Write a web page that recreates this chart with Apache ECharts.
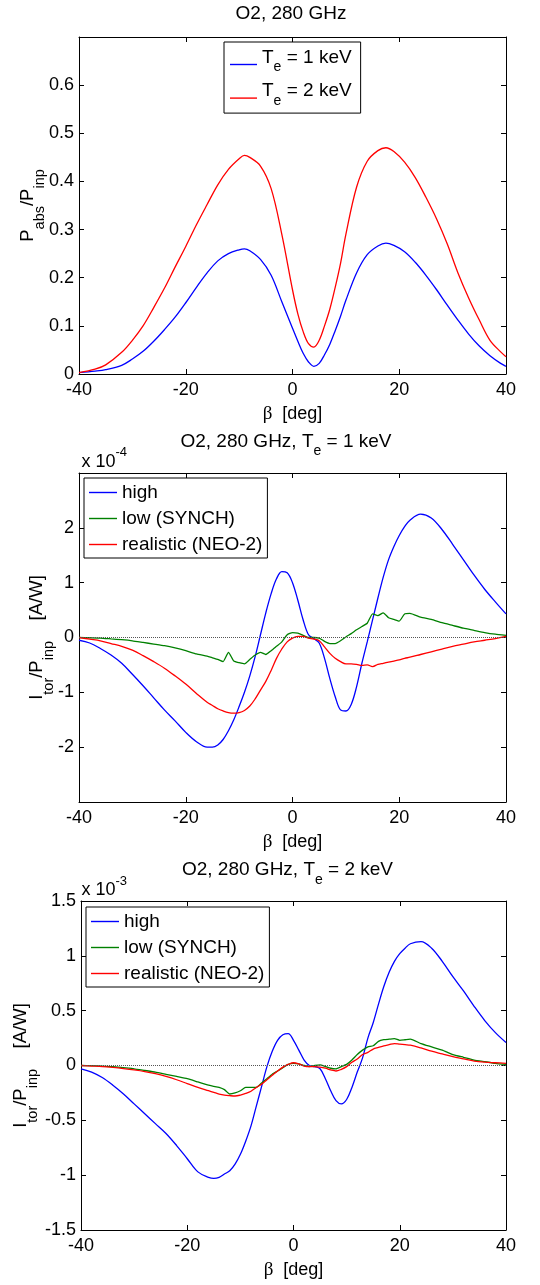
<!DOCTYPE html>
<html>
<head>
<meta charset="utf-8">
<script src="https://cdn.jsdelivr.net/npm/echarts@6/dist/echarts.min.js"></script>
<style>
html,body{margin:0;padding:0;background:#fff;}
#c{width:540px;height:1285px;}
</style>
</head>
<body>
<div id="c"></div>
<script>
// ---------------- DATA ----------------
// Panel 1: absorbed power fraction vs beta
const betaP = [-40,-37,-35,-32,-30,-28,-26,-24,-22,-20,-18,-16,-14,-12,-10,-9,-8,-6,-4,-2,
               0,1,2,3,4,5,6,7,8,9,10,12,14,16,17.5,19,21,23,25,27,29,31,33,35,37,39,40];
const pabs1keV = [0.003,0.006,0.009,0.018,0.031,0.047,0.068,0.092,0.118,0.148,0.18,0.21,0.235,0.25,0.258,0.26,0.256,0.238,0.205,0.15,
                  0.095,0.068,0.043,0.025,0.016,0.022,0.04,0.062,0.09,0.12,0.153,0.21,0.248,0.266,0.272,0.267,0.254,0.232,0.205,0.175,0.143,0.112,0.083,0.058,0.038,0.022,0.016];
const pabs2keV = [0.003,0.01,0.019,0.045,0.07,0.1,0.138,0.178,0.222,0.265,0.31,0.352,0.393,0.425,0.447,0.454,0.45,0.432,0.385,0.29,
                  0.175,0.125,0.088,0.063,0.056,0.07,0.1,0.135,0.18,0.23,0.29,0.388,0.442,0.464,0.47,0.462,0.44,0.408,0.367,0.322,0.27,0.21,0.158,0.112,0.07,0.046,0.036];

// Panels 2 and 3: toroidal current per input power vs beta
const betaI = [-40,-38,-36,-34,-32,-30,-28,-26,-24,-22,
               -20,-18,-16,-15,-14,-13,-12,-11,-10,-9,
               -8,-7,-6,-5,-4,-3,-2,-1,0,1,
               2,3,4,5,6,7,8,9,10,11,
               12,13,14,15,16,17,18,19,20,21,
               22,24,26,28,30,32,34,36,38,40];
// Te = 1 keV, units of 1e-4 A/W
const ihigh1 = [-0.05,-0.1,-0.2,-0.32,-0.47,-0.67,-0.88,-1.1,-1.32,-1.52,
                -1.73,-1.9,-2.0,-2.0,-1.96,-1.86,-1.7,-1.5,-1.26,-1.0,
                -0.7,-0.35,0.05,0.45,0.8,1.07,1.2,1.18,1.0,0.68,
                0.32,0.05,-0.02,-0.1,-0.38,-0.75,-1.08,-1.32,-1.34,-1.22,
                -0.9,-0.47,-0.08,0.32,0.72,1.1,1.42,1.66,1.86,2.02,
                2.14,2.25,2.18,1.97,1.7,1.42,1.14,0.88,0.65,0.43];
const ilow1 = [0,-0.005,-0.01,-0.025,-0.04,-0.06,-0.09,-0.12,-0.15,-0.19,
               -0.24,-0.3,-0.34,-0.37,-0.4,-0.44,-0.27,-0.43,-0.46,-0.48,
               -0.4,-0.32,-0.27,-0.31,-0.24,-0.16,-0.08,0.05,0.09,0.08,
               0.04,0.0,0.0,-0.01,-0.07,-0.11,-0.11,-0.06,0.01,0.07,
               0.14,0.2,0.26,0.43,0.4,0.45,0.36,0.33,0.3,0.43,
               0.44,0.37,0.33,0.27,0.22,0.17,0.13,0.09,0.06,0.04];
const ineo1 = [0,-0.03,-0.06,-0.11,-0.16,-0.23,-0.33,-0.44,-0.56,-0.7,
               -0.85,-1.02,-1.18,-1.24,-1.3,-1.34,-1.37,-1.38,-1.37,-1.33,
               -1.25,-1.12,-0.96,-0.8,-0.6,-0.38,-0.21,-0.08,-0.01,0.02,
               0.02,-0.01,-0.03,-0.06,-0.17,-0.29,-0.38,-0.44,-0.48,-0.48,
               -0.49,-0.51,-0.5,-0.53,-0.49,-0.47,-0.45,-0.43,-0.41,-0.38,
               -0.36,-0.31,-0.26,-0.21,-0.16,-0.12,-0.08,-0.05,-0.02,0.02];
// Te = 2 keV, units of 1e-3 A/W
const ihigh2 = [-0.03,-0.06,-0.11,-0.18,-0.26,-0.35,-0.44,-0.53,-0.62,-0.73,
                -0.85,-0.97,-1.02,-1.03,-1.02,-0.99,-0.96,-0.9,-0.81,-0.69,
                -0.55,-0.37,-0.19,-0.01,0.13,0.23,0.28,0.29,0.23,0.14,
                0.05,0.0,-0.01,-0.03,-0.12,-0.23,-0.32,-0.35,-0.31,-0.2,
                -0.06,0.07,0.25,0.39,0.56,0.72,0.85,0.95,1.02,1.07,
                1.11,1.13,1.07,0.95,0.81,0.68,0.54,0.41,0.3,0.21];
const ilow2 = [0,-0.002,-0.005,-0.01,-0.02,-0.03,-0.045,-0.06,-0.08,-0.1,
               -0.12,-0.15,-0.18,-0.19,-0.2,-0.22,-0.26,-0.25,-0.23,-0.2,
               -0.2,-0.2,-0.16,-0.12,-0.08,-0.05,-0.02,0.01,0.02,0.015,
               0.0,-0.01,0.0,0.005,-0.01,-0.025,-0.03,-0.01,0.01,0.05,
               0.1,0.14,0.17,0.18,0.22,0.235,0.24,0.245,0.23,0.235,
               0.24,0.2,0.17,0.14,0.1,0.075,0.05,0.035,0.02,0.01];
const ineo2 = [0,-0.005,-0.01,-0.018,-0.028,-0.04,-0.055,-0.075,-0.1,-0.13,
               -0.165,-0.2,-0.23,-0.245,-0.26,-0.27,-0.275,-0.278,-0.27,-0.255,
               -0.235,-0.2,-0.17,-0.13,-0.09,-0.05,-0.015,0.01,0.025,0.015,
               -0.005,-0.01,-0.01,-0.015,-0.025,-0.04,-0.05,-0.035,-0.01,0.03,
               0.06,0.1,0.12,0.15,0.165,0.18,0.19,0.2,0.195,0.19,
               0.185,0.16,0.13,0.105,0.08,0.06,0.04,0.03,0.025,0.02];

// Tick labels shown on the y axes
const yTicksP = [0,0.1,0.2,0.3,0.4,0.5,0.6];
const yTicksI1 = [-2,-1,0,1,2];
const yTicksI2 = [-1.5,-1,-0.5,0,0.5,1,1.5];
const xTicks = [-40,-20,0,20,40];

const legendTop = ['T_e = 1 keV','T_e = 2 keV'];
const legendI = ['high','low (SYNCH)','realistic (NEO-2)'];

// ---------------- STYLE ----------------
const FONT = '"Liberation Sans", Arial, Helvetica, sans-serif';
const SERIF = '"Liberation Serif", "DejaVu Serif", serif';
const BLUE = '#0000ff', GREEN = '#008000', RED = '#ff0000';

const subRich = {
  m: {fontFamily: FONT, fontSize: 18.5, color: '#000', padding: [0,0,12,0], verticalAlign: 'middle'},
  s: {fontFamily: FONT, fontSize: 14.5, color: '#000', padding: [12,0,0,0], verticalAlign: 'middle'}
};
const titleRich = {
  m: {fontFamily: FONT, fontSize: 19, color: '#000', padding: [0,0,14,0], verticalAlign: 'middle'},
  s: {fontFamily: FONT, fontSize: 14, color: '#000', padding: [6,0,0,0], verticalAlign: 'middle'}
};
const supRich = {
  m: {fontFamily: FONT, fontSize: 18, color: '#000', verticalAlign: 'middle'},
  p: {fontFamily: FONT, fontSize: 13, color: '#000', padding: [0,0,19,0], verticalAlign: 'middle'}
};

const axLine = {show: true, onZero: false, lineStyle: {color: '#000', width: 1}};
const axTick = {show: true, inside: true, length: 5, lineStyle: {color: '#000', width: 1}};

function fmtTicks(list) {
  return function (v) {
    for (const t of list) { if (Math.abs(t - v) < 1e-9) return String(t); }
    return '';
  };
}

function xAxesFor(gi) {
  return [
    {type: 'value', gridIndex: gi, position: 'bottom', min: xTicks[0], max: xTicks[xTicks.length-1], interval: 20,
     name: '{b|β}{t|  [deg]}', nameLocation: 'middle', nameGap: 31, nameMoveOverlap: false,
     nameTextStyle: {color: '#000', rich: {
       b: {fontFamily: SERIF, fontSize: 19, color: '#000'},
       t: {fontFamily: FONT, fontSize: 18, color: '#000'}}},
     axisLine: axLine, axisTick: axTick, splitLine: {show: false},
     axisLabel: {color: '#000', fontFamily: FONT, fontSize: 18, margin: 7, formatter: fmtTicks(xTicks)}},
    {type: 'value', gridIndex: gi, position: 'top', min: xTicks[0], max: xTicks[xTicks.length-1], interval: 20,
     axisLine: axLine, axisTick: axTick, splitLine: {show: false}, axisLabel: {show: false}}
  ];
}
function yAxesFor(gi, min, max, interval, ticks, name, gap) {
  return [
    {type: 'value', gridIndex: gi, position: 'left', min: min, max: max, interval: interval,
     name: name, nameLocation: 'middle', nameGap: gap, nameRotate: 90, nameMoveOverlap: false,
     nameTextStyle: {color: '#000', rich: subRich},
     axisLine: axLine, axisTick: axTick, splitLine: {show: false},
     axisLabel: {color: '#000', fontFamily: FONT, fontSize: 18, margin: 5, formatter: fmtTicks(ticks)}},
    {type: 'value', gridIndex: gi, position: 'right', min: min, max: max, interval: interval,
     axisLine: axLine, axisTick: axTick, splitLine: {show: false}, axisLabel: {show: false}}
  ];
}

function lineSeries(name, color, xs, ys, gi, extra) {
  return Object.assign({
    type: 'line', name: name, xAxisIndex: 2*gi, yAxisIndex: 2*gi,
    data: xs.map((x, i) => [x, ys[i]]),
    symbol: 'none', showSymbol: false, smooth: 0.35,
    lineStyle: {color: color, width: 1.3}, itemStyle: {color: color},
    clip: true, silent: true, emphasis: {disabled: true}
  }, extra || {});
}

const zeroLine = {
  silent: true, symbol: ['none','none'], label: {show: false},
  lineStyle: {type: 'dotted', color: '#555', width: 1},
  emphasis: {disabled: true},
  data: [{yAxis: 0}]
};

const legendBase = {
  orient: 'vertical', selectedMode: false, icon: 'rect', itemWidth: 28, itemHeight: 1.4,
  borderColor: '#000', borderWidth: 1, backgroundColor: '#fff', borderRadius: 0
};

const option = {
  animation: false,
  backgroundColor: '#fff',
  grid: [
    {left: 79, top: 37, width: 427, height: 337, outerBoundsMode: 'none'},
    {left: 79, top: 473, width: 427, height: 329, outerBoundsMode: 'none'},
    {left: 81, top: 901, width: 425, height: 329, outerBoundsMode: 'none'}
  ],
  xAxis: [].concat(xAxesFor(0), xAxesFor(1), xAxesFor(2)),
  yAxis: [].concat(
    yAxesFor(0, 0, 0.7, 0.1, yTicksP, '{m|P}{s|abs}{m|/P}{s|inp}', 30),
    yAxesFor(1, -3, 3, 1, yTicksI1, '{m|I}{s|tor}{m|/P}{s|inp}{m|    [A/W]}', 21),
    yAxesFor(2, -1.5, 1.5, 0.5, yTicksI2, '{m|I}{s|tor}{m|/P}{s|inp}{m|    [A/W]}', 39)
  ),
  legend: [
    Object.assign({}, legendBase, {
      data: legendTop, left: 224, top: 42, padding: [6, 9, 5, 6], itemGap: 7.1, itemWidth: 27,
      formatter: n => n.replace(/^T_e(.*)$/, '{m|T}{s|e}{m|$1}'),
      textStyle: {color: '#000', fontFamily: FONT, fontSize: 19, rich: titleRich}
    }),
    Object.assign({}, legendBase, {
      data: legendI, left: 84, top: 478, padding: [5, 5, 4, 5], itemGap: 7,
      textStyle: {color: '#000', fontFamily: FONT, fontSize: 19}
    }),
    Object.assign({}, legendBase, {
      data: legendI, left: 86, top: 907, padding: [5, 5, 4, 5], itemGap: 7,
      textStyle: {color: '#000', fontFamily: FONT, fontSize: 19}
    })
  ],
  graphic: [
    {type: 'text', x: 291, y: 14, silent: true,
     style: {text: '{m|O2, 280 GHz}', align: 'center', verticalAlign: 'middle',
             rich: {m: {fontFamily: FONT, fontSize: 19, color: '#000'}}}},
    {type: 'text', x: 286, y: 448.5, silent: true,
     style: {text: '{m|O2, 280 GHz, T}{s|e}{m| = 1 keV}', align: 'center', verticalAlign: 'middle', rich: titleRich}},
    {type: 'text', x: 287.5, y: 877, silent: true,
     style: {text: '{m|O2, 280 GHz, T}{s|e}{m| = 2 keV}', align: 'center', verticalAlign: 'middle', rich: titleRich}},
    {type: 'text', x: 81.5, y: 462, silent: true,
     style: {text: '{m|x 10}{p|-4}', align: 'left', verticalAlign: 'middle', rich: supRich}},
    {type: 'text', x: 81.5, y: 890.5, silent: true,
     style: {text: '{m|x 10}{p|-3}', align: 'left', verticalAlign: 'middle', rich: supRich}}
  ],
  series: [
    lineSeries(legendTop[0], BLUE, betaP, pabs1keV, 0),
    lineSeries(legendTop[1], RED, betaP, pabs2keV, 0),
    lineSeries(legendI[0], BLUE, betaI, ihigh1, 1, {markLine: zeroLine}),
    lineSeries(legendI[1], GREEN, betaI, ilow1, 1, {smooth: 0.15}),
    lineSeries(legendI[2], RED, betaI, ineo1, 1),
    lineSeries(legendI[0], BLUE, betaI, ihigh2, 2, {markLine: zeroLine}),
    lineSeries(legendI[1], GREEN, betaI, ilow2, 2, {smooth: 0.15}),
    lineSeries(legendI[2], RED, betaI, ineo2, 2)
  ]
};

const chart = echarts.init(document.getElementById('c'), null, {renderer: 'canvas'});
chart.setOption(option);
</script>
</body>
</html>
